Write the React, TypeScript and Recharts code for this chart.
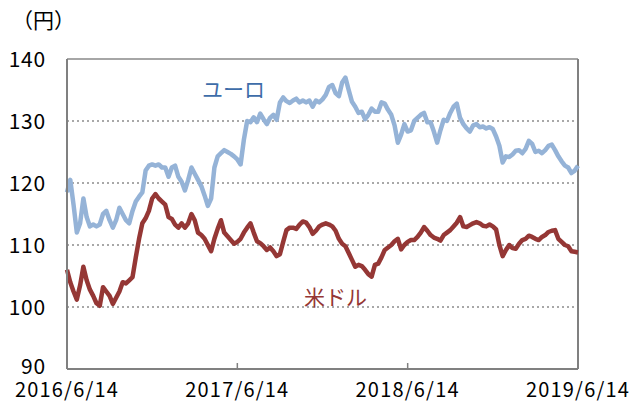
import React from 'react';
import { LineChart, Line, XAxis, YAxis, CartesianGrid, ReferenceLine } from 'recharts';

const tickLabels = ['2016/6/14', '2017/6/14', '2018/6/14', '2019/6/14'];
const tickWeeks = [0, 52, 104, 156];
const yTicks = [90, 100, 110, 120, 130, 140];

// weekly values (円), 2016/6/14 – 2019/6/14
const eurValues = [
  118.5, 120.5, 116.5, 112.0, 113.5, 117.5, 114.5, 113.0, 113.3, 113.0,
  113.3, 115.0, 115.5, 114.0, 112.8, 114.0, 116.0, 115.0, 114.0, 113.5,
  115.5, 117.0, 117.8, 118.5, 122.0, 122.8, 123.0, 122.8, 123.0, 122.5,
  122.5, 121.0, 122.5, 122.8, 121.0, 120.2, 118.8, 120.5, 122.5, 121.5,
  120.5, 119.5, 118.0, 116.3, 117.5, 122.5, 124.3, 124.8, 125.3, 125.0,
  124.7, 124.3, 123.8, 123.0, 127.0, 130.0, 129.8, 130.6, 129.8, 131.2,
  130.3, 129.5, 130.5, 131.0, 130.2, 133.0, 133.8, 133.2, 132.9, 133.3,
  133.6, 133.0, 133.3, 133.0, 133.3, 132.3, 133.3, 133.0, 133.5, 134.2,
  135.5, 135.8, 134.5, 134.0, 136.2, 137.0, 135.0, 133.1, 132.3, 131.3,
  131.5, 130.3, 131.0, 132.0, 131.5, 131.5, 133.0, 132.8, 131.8, 131.0,
  129.3, 126.5, 127.8, 129.5, 128.3, 128.5, 130.0, 130.5, 131.0, 131.3,
  129.8, 129.8, 128.3, 126.5, 128.5, 130.2, 130.0, 131.3, 132.3, 132.8,
  130.5, 129.5, 128.8, 128.3, 129.3, 129.5, 129.0, 129.1, 128.8, 129.0,
  128.7, 127.5, 126.0, 123.3, 124.3, 124.2, 124.6, 125.2, 125.3, 124.8,
  125.5, 126.8, 126.3, 125.0, 125.2, 124.8, 125.3, 126.0, 126.2, 125.3,
  124.3, 123.5, 122.8, 122.5, 121.6, 122.0, 122.8,
];

const usdValues = [
  106.0, 104.0, 102.5, 101.2, 103.5, 106.5, 104.3, 102.8, 101.8, 100.6,
  100.2, 103.2, 102.5, 101.8, 100.5, 101.5, 102.5, 104.0, 103.8, 104.3,
  104.8, 108.0, 111.0, 113.5, 114.3, 115.5, 117.5, 118.2, 117.5, 117.0,
  116.5, 114.5, 114.2, 113.3, 112.8, 113.5, 112.8, 113.5, 115.0, 114.0,
  112.0, 111.6, 111.0, 110.0, 109.0, 111.0, 112.6, 114.0, 112.0, 111.4,
  110.8, 110.2, 110.5, 111.0, 112.0, 112.8, 113.5, 112.0, 110.6, 110.3,
  109.8, 109.2, 109.6, 109.0, 108.2, 108.5, 110.5, 112.4, 112.8, 112.8,
  112.6, 113.3, 113.8, 113.6, 112.9, 111.8, 112.3, 113.0, 113.3, 113.5,
  113.3, 113.0, 112.3, 111.0, 110.2, 109.8, 108.7, 107.6, 106.5, 106.8,
  106.6, 106.0, 105.3, 104.9, 106.8, 107.0, 108.0, 109.2, 109.6, 110.0,
  110.6, 111.0, 109.3, 110.0, 110.5, 110.8, 110.8, 111.3, 112.0, 112.9,
  112.3, 111.6, 111.2, 111.0, 110.7, 111.6, 112.0, 112.4, 113.0, 113.6,
  114.5, 113.0, 112.9, 113.2, 113.5, 113.7, 113.5, 113.1, 113.0, 113.3,
  113.0, 112.5, 110.0, 108.2, 109.2, 110.0, 109.5, 109.4, 110.2, 110.8,
  111.0, 111.5, 111.3, 111.0, 110.8, 111.3, 111.6, 112.1, 112.3, 112.4,
  111.0, 110.5, 110.0, 109.8, 109.0, 108.9, 108.8,
];

const data = eurValues.map((v, i) => ({ t: i, eur: v, usd: usdValues[i] }));

const FONT = '"Noto Sans CJK JP", "Noto Sans", sans-serif';
const xTickStyle = { fill: '#000', fontSize: 20, fontFamily: FONT, letterSpacing: 1.2 };

function YTick(props: any) {
  const { x, y, payload } = props;
  const shift = payload.value === 90 ? -4 : -1;
  return (
    <text
      x={x}
      y={y + shift}
      textAnchor="end"
      dominantBaseline="central"
      fill="#000"
      fontSize={21}
      fontFamily={FONT}
      letterSpacing={0.8}
    >
      {payload.value}
    </text>
  );
}

export default function App() {
  return (
    <div style={{ position: 'absolute', left: 0, top: 0, width: 637, height: 403, background: '#fff', fontFamily: FONT }}>
      <LineChart width={637} height={403} data={data} margin={{ top: 59, right: 59, bottom: 0, left: 0 }}>
        <CartesianGrid horizontal vertical={false} stroke="#8c8c8c" strokeDasharray="2 3" strokeWidth={1.5} />
        <XAxis
          dataKey="t"
          type="number"
          domain={[0, 156]}
          ticks={tickWeeks}
          interval={0}
          height={34}
          tickFormatter={(v: number) => tickLabels[tickWeeks.indexOf(v)] ?? ''}
          axisLine={{ stroke: '#808080', strokeWidth: 2 }}
          tickLine={{ stroke: '#808080', strokeWidth: 1.5 }}
          tickSize={-6}
          tickMargin={20}
          tick={xTickStyle}
        />
        <YAxis
          type="number"
          domain={[90, 140]}
          ticks={yTicks}
          interval={0}
          width={67}
          axisLine={{ stroke: '#808080', strokeWidth: 2 }}
          tickLine={false}
          tickSize={0}
          tickMargin={21}
          tick={<YTick />}
        />
        <ReferenceLine y={140} stroke="#a6a6a6" strokeWidth={2} />
        <ReferenceLine x={156} stroke="#808080" strokeWidth={2} />
        <Line type="linear" dataKey="eur" stroke="#95B3D7" strokeWidth={4.5} dot={false} isAnimationActive={false} strokeLinejoin="round" />
        <Line type="linear" dataKey="usd" stroke="#953735" strokeWidth={4.5} dot={false} isAnimationActive={false} strokeLinejoin="round" />
      </LineChart>
      <div style={{ position: 'absolute', left: 12, top: 4, fontSize: 21, color: '#000', whiteSpace: 'nowrap' }}>（円）</div>
      <div style={{ position: 'absolute', left: 202, top: 73, fontSize: 21, color: '#3E6DA9', whiteSpace: 'nowrap' }}>ユーロ</div>
      <div style={{ position: 'absolute', left: 304, top: 281, fontSize: 21, color: '#953735', whiteSpace: 'nowrap' }}>米ドル</div>
    </div>
  );
}
